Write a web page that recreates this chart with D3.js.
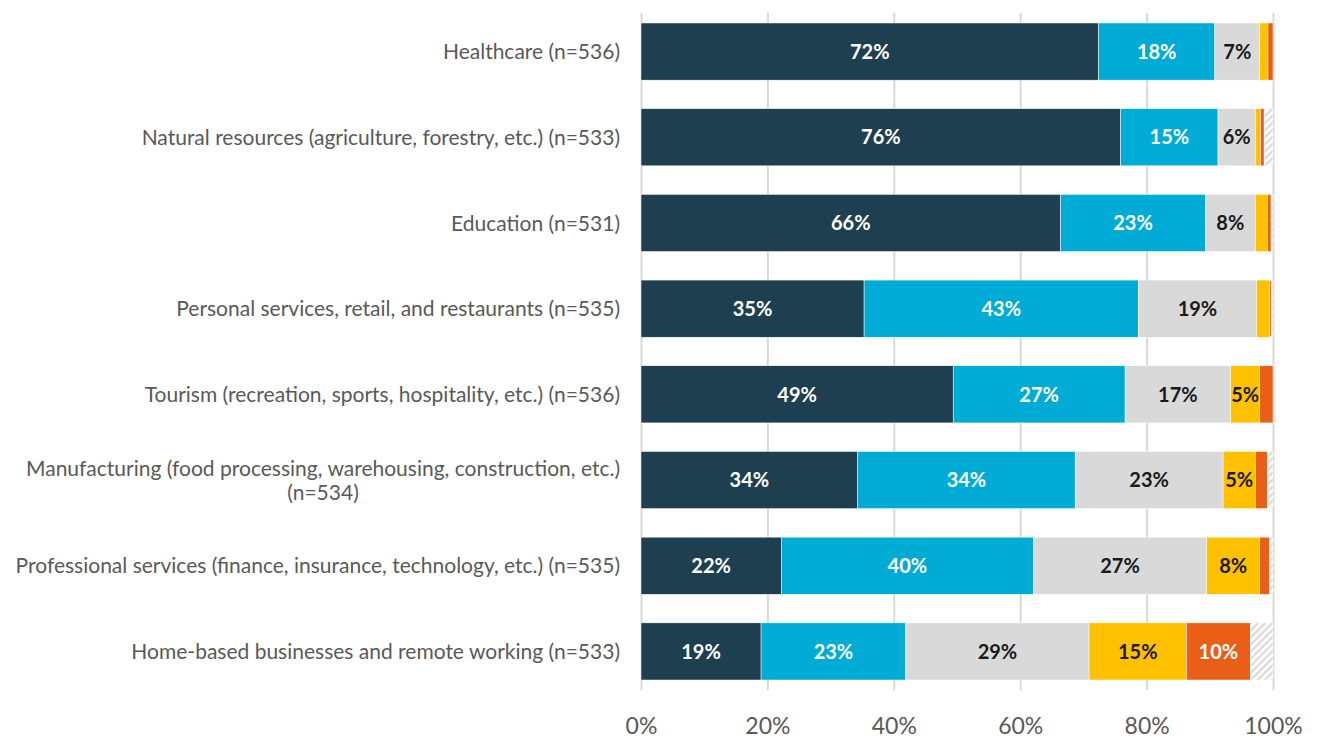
<!DOCTYPE html>
<html>
<head>
<meta charset="utf-8">
<script src="https://cdn.jsdelivr.net/npm/d3@7"></script>
<style>
  body { margin: 0; background: #fff; }
  #chart { width: 1318px; height: 739px; }
  text { font-family: Lato, "Open Sans", sans-serif; }
</style>
</head>
<body>
<div id="chart"></div>
<script>
// categories, each entry is one label (lines split where the original wraps)
var categories = [
    ["Healthcare (n=536)"],
    ["Natural resources (agriculture, forestry, etc.) (n=533)"],
    ["Education (n=531)"],
    ["Personal services, retail, and restaurants (n=535)"],
    ["Tourism (recreation, sports, hospitality, etc.) (n=536)"],
    ["Manufacturing (food processing, warehousing, construction, etc.)", "(n=534)"],
    ["Professional services (finance, insurance, technology, etc.) (n=535)"],
    ["Home-based businesses and remote working (n=533)"]
];

// series values, percent of respondents
var seriesDark   = [72.4, 75.9, 66.4, 35.3, 49.4, 34.3, 22.2, 19.0];
var seriesCyan   = [18.4, 15.4, 22.9, 43.4, 27.2, 34.4, 39.9, 22.9];
var seriesGray   = [7.1, 5.9, 7.9, 18.7, 16.7, 23.4, 27.4, 29.0];
var seriesYellow = [1.3, 0.8, 1.9, 2.1, 4.6, 5.1, 8.4, 15.4];
var seriesOrange = [0.8, 0.6, 0.6, 0.3, 2.1, 1.9, 1.6, 10.1];
var seriesOther  = [0, 1.4, 0.3, 0.2, 0, 0.9, 0.5, 3.6];

var xTicks = [0, 20, 40, 60, 80, 100];

var series = [
    { key: "dark", values: seriesDark, fill: "#1e3f4f", text: "#fff" },
    { key: "cyan", values: seriesCyan, fill: "#00acd6", text: "#fff" },
    { key: "gray", values: seriesGray, fill: "#d9d9d9", text: "#1a1a1a" },
    { key: "yellow", values: seriesYellow, fill: "#ffc000", text: "#1a1a1a" },
    { key: "orange", values: seriesOrange, fill: "#ea5f17", text: "#fff" },
    { key: "other", values: seriesOther, fill: "url(#hatch)", text: "none" }
];

var W = 1318, H = 739;
var margin = { top: 8.7, right: 45, bottom: 44.7, left: 641 };
var width = W - margin.left - margin.right,
    height = H - margin.top - margin.bottom;

var svg = d3.select("#chart").append("svg")
    .attr("width", W)
    .attr("height", H);

var defs = svg.append("defs");
var pat = defs.append("pattern")
    .attr("id", "hatch")
    .attr("patternUnits", "userSpaceOnUse")
    .attr("width", 5)
    .attr("height", 5)
    .attr("patternTransform", "rotate(45)");
pat.append("rect").attr("width", 5).attr("height", 5).attr("fill", "#fff");
pat.append("line")
    .attr("x1", 1.5).attr("y1", 0).attr("x2", 1.5).attr("y2", 5)
    .attr("stroke", "#d4d4d4").attr("stroke-width", 2);

var x = d3.scaleLinear().domain([0, 100]).range([0, width]);
var y = d3.scaleBand()
    .domain(d3.range(categories.length))
    .range([0, height])
    .paddingInner(0.333)
    .paddingOuter(0.1667);

var g = svg.append("g")
    .attr("transform", "translate(" + margin.left + "," + margin.top + ")");

// gridlines + tick labels
var xAxis = g.append("g")
    .attr("class", "axis axis--x")
    .attr("transform", "translate(0," + (height - 4) + ")")
    .call(d3.axisBottom(x).tickValues(xTicks)
        .tickSize(-(height - 8))
        .tickPadding(27)
        .tickFormat(function (d) { return d + "%"; }));
xAxis.select(".domain").remove();
xAxis.selectAll("line")
    .style("stroke", "#d9d9d9")
    .style("stroke-width", 2);
xAxis.selectAll("text")
    .style("font-size", "23px")
    .style("fill", "#595959")
    .style("font-family", "Lato, sans-serif");

// stacked segments
var rows = categories.map(function (c, i) {
    var x0 = 0;
    return series.map(function (s) {
        var seg = { row: i, s: s, v: s.values[i], x0: x0 };
        x0 += s.values[i];
        seg.x1 = x0;
        return seg;
    });
});

var rowG = g.selectAll(".row")
    .data(rows)
    .enter().append("g")
    .attr("class", "row")
    .attr("transform", function (d, i) { return "translate(0," + y(i) + ")"; });

rowG.selectAll("rect")
    .data(function (d) { return d.filter(function (e) { return e.v > 0; }); })
    .enter().append("rect")
    .attr("x", function (d) { return x(d.x0); })
    .attr("y", 0)
    .attr("width", function (d) { return x(d.x1) - x(d.x0); })
    .attr("height", y.bandwidth())
    .style("fill", function (d) { return d.s.fill; })
    .style("stroke", "#fff")
    .style("stroke-width", 0.5);

rowG.selectAll(".lbl")
    .data(function (d) { return d.filter(function (e) { return e.v >= 3 && e.s.key !== "other"; }); })
    .enter().append("text")
    .attr("class", "lbl")
    .attr("x", function (d) { return x((d.x0 + d.x1) / 2); })
    .attr("y", y.bandwidth() / 2)
    .attr("dy", "0.36em")
    .style("text-anchor", "middle")
    .style("font-size", "20px")
    .style("font-weight", "bold")
    .style("fill", function (d) { return d.s.text; })
    .text(function (d) { return Math.round(d.v) + "%"; });

// category labels
var labelRight = -21;
var catSize = "21px";
var catG = g.append("g").attr("class", "cats");
categories.forEach(function (lines, i) {
    var cy = y(i) + y.bandwidth() / 2;
    var lh = 24;
    var startY = cy - (lines.length - 1) * lh / 2;
    var first = catG.append("text")
        .attr("x", labelRight)
        .attr("y", startY)
        .attr("dy", "0.36em")
        .style("text-anchor", "end")
        .style("font-size", catSize)
        .style("fill", "#595959")
        .text(lines[0]);
    if (lines.length > 1) {
        var w = first.node().getComputedTextLength();
        for (var k = 1; k < lines.length; k++) {
            catG.append("text")
                .attr("x", labelRight - w / 2)
                .attr("y", startY + k * lh)
                .attr("dy", "0.36em")
                .style("text-anchor", "middle")
                .style("font-size", catSize)
                .style("fill", "#595959")
                .text(lines[k]);
        }
    }
});
</script>
</body>
</html>
